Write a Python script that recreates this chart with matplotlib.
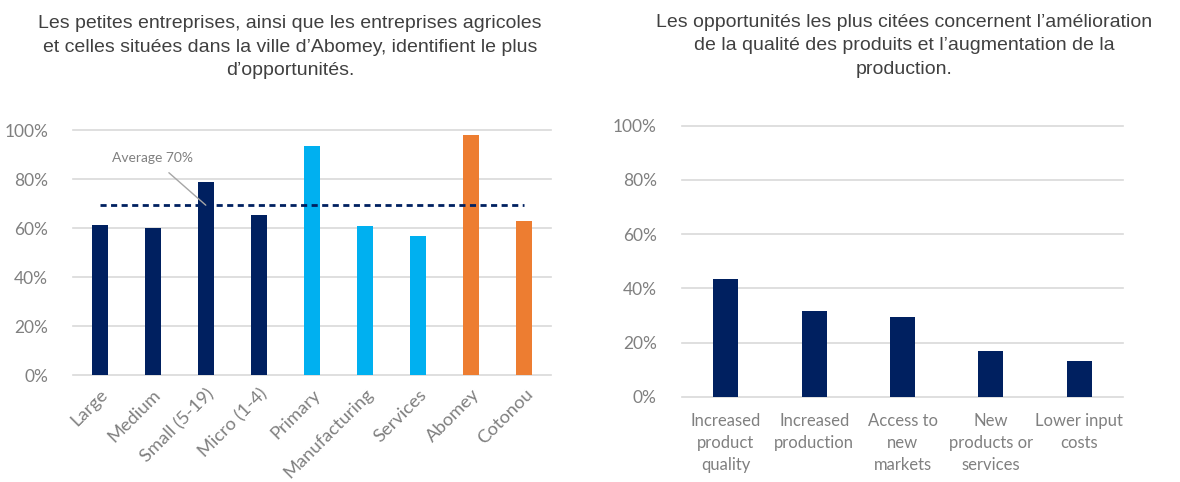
import matplotlib
matplotlib.use("Agg")
import matplotlib.pyplot as plt
from matplotlib.ticker import PercentFormatter

# Left panel: share of firms identifying opportunities, by segment
seg_labels = ["Large", "Medium", "Small (5-19)", "Micro (1-4)", "Primary",
              "Manufacturing", "Services", "Abomey", "Cotonou"]
seg_values = [0.613, 0.60, 0.79, 0.652, 0.935, 0.608, 0.567, 0.98, 0.629]
seg_groups = ["size", "size", "size", "size", "sector", "sector", "sector",
              "city", "city"]
average_value = 0.694
average_label = "Average 70%"

# Right panel: most cited opportunities
opp_labels = ["Increased\nproduct\nquality", "Increased\nproduction",
              "Access to\nnew\nmarkets", "New\nproducts or\nservices",
              "Lower input\ncosts"]
opp_values = [0.435, 0.316, 0.294, 0.169, 0.131]

left_title = ("Les petites entreprises, ainsi que les entreprises agricoles\n"
              "et celles situées dans la ville d’Abomey, identifient le plus\n"
              "d’opportunités.")
right_title = ("Les opportunités les plus citées concernent l’amélioration\n"
               "de la qualité des produits et l’augmentation de la\n"
               "production.")

NAVY = "#002060"
LIGHT_BLUE = "#00B0F0"
ORANGE = "#ED7D31"
GRID = "#D9D9D9"
TICK_TXT = "#808080"
TITLE_TXT = "#404040"
group_colors = {"size": NAVY, "sector": LIGHT_BLUE, "city": ORANGE}

W, H = 1180, 482
fig = plt.figure(figsize=(W / 100, H / 100), dpi=100)
fig.patch.set_facecolor("white")


def px_axes(x0, x1, y_top, y_bot):
    return fig.add_axes([x0 / W, 1 - y_bot / H, (x1 - x0) / W, (y_bot - y_top) / H])


def style_axes(ax):
    ax.set_ylim(0, 1.0)
    ax.set_yticks([0, 0.2, 0.4, 0.6, 0.8, 1.0])
    ax.yaxis.set_major_formatter(PercentFormatter(1.0, decimals=0))
    for s in ax.spines.values():
        s.set_visible(False)
    ax.grid(axis="y", color=GRID, linewidth=1.2)
    ax.set_axisbelow(True)
    ax.tick_params(axis="both", length=0, colors=TICK_TXT, labelsize=12.5)
    ax.tick_params(axis="y", pad=18)
    for lbl in ax.get_yticklabels():
        lbl.set_fontfamily("Lato")
    for gl in ax.get_ygridlines():
        gl.set_clip_on(False)


# ---- left chart ----
ax1 = px_axes(73, 551, 130.3, 375)
x1 = list(range(len(seg_labels)))
ax1.bar(x1, seg_values, width=0.30,
        color=[group_colors[g] for g in seg_groups], zorder=2)
ax1.set_xlim(-0.5, len(seg_labels) - 0.5)
style_axes(ax1)
ax1.set_xticks(x1)
ax1.set_xticklabels(seg_labels, rotation=45, ha="right",
                    rotation_mode="anchor", family="Lato", fontsize=13.2,
                    color=TICK_TXT)
ax1.tick_params(axis="x", pad=8)
ax1.plot([x1[0], x1[-1]], [average_value, average_value], color=NAVY,
         linewidth=2, linestyle=(0, (2.2, 1.6)), zorder=3)
ax1.annotate(average_label, xy=(2, average_value), xytext=(1.0, 0.885),
             textcoords="data", ha="center", va="center", fontsize=10,
             family="Lato", color=TICK_TXT,
             arrowprops=dict(arrowstyle="-", color="#A6A6A6", lw=1,
                             shrinkA=6, shrinkB=0), zorder=4)
fig.text(290 / W, 1 - 47 / H, left_title, ha="center", va="center",
         fontsize=14, family="Liberation Sans", color=TITLE_TXT,
         linespacing=1.5)

# ---- right chart ----
ax2 = px_axes(681.7, 1123.3, 125.7, 396.7)
x2 = list(range(len(opp_labels)))
ax2.bar(x2, opp_values, width=0.28, color=NAVY, zorder=2)
ax2.set_xlim(-0.5, len(opp_labels) - 0.5)
style_axes(ax2)
ax2.set_xticks(x2)
ax2.set_xticklabels(opp_labels, ha="center", va="top", family="Lato",
                    fontsize=12, color=TICK_TXT, linespacing=1.45)
ax2.tick_params(axis="x", pad=12)
fig.text(904 / W, 1 - 46 / H, right_title, ha="center", va="center",
         fontsize=14, family="Liberation Sans", color=TITLE_TXT,
         linespacing=1.5)

fig.savefig("out.png", dpi=100, facecolor="white")
